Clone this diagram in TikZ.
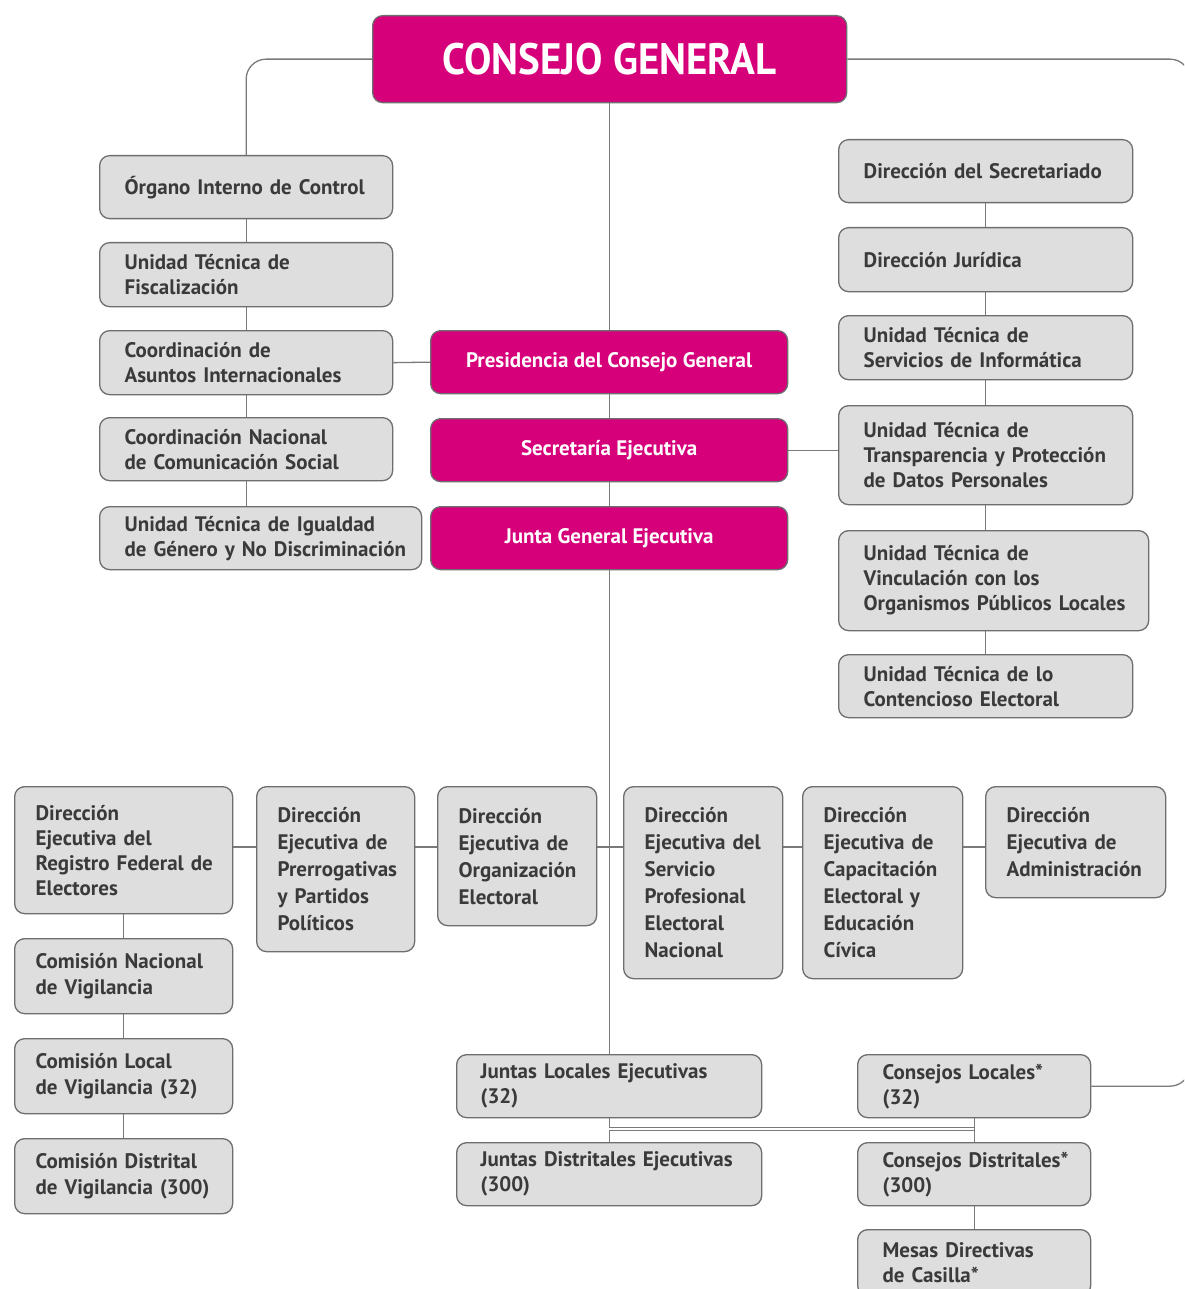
\documentclass[tikz,border=0pt]{standalone}
\usepackage{fontspec}
\setmainfont{PT Sans}
\newfontfamily\titlefont{PT Sans}[FakeStretch=0.93]
\usetikzlibrary{backgrounds}
\definecolor{mag}{HTML}{D6007B}
\definecolor{boxfill}{HTML}{DEDEDE}
\definecolor{boxline}{HTML}{6E6E6E}
\definecolor{txt}{HTML}{3A3A3A}
\definecolor{conncol}{HTML}{7A7A7A}
\hyphenpenalty=10000
\exhyphenpenalty=10000
\begin{document}
\begin{tikzpicture}[x=1pt,y=-1pt,
  gbox/.style={anchor=north west, draw=boxline, line width=1.3pt, fill=boxfill,
    rounded corners=10pt, inner xsep=25pt, inner ysep=0pt, align=left, text=txt,
    font=\fontsize{21}{25}\selectfont\bfseries},
  dbox/.style={gbox, inner xsep=21pt, font=\fontsize{21}{27}\selectfont\bfseries},
  mbox/.style={anchor=north west, draw=boxline, line width=1.3pt, fill=mag,
    rounded corners=10pt, inner sep=0pt, align=center, text=white,
    font=\fontsize{21}{25}\selectfont\bfseries},
  conn/.style={draw=conncol, line width=1.3pt}]
\useasboundingbox (0,0) rectangle (1184,1289);
\clip (0,0) rectangle (1184,1289);

% top
\node[mbox, minimum width=474pt, minimum height=87pt, font=\titlefont\fontsize{44}{50}\selectfont\bfseries] (cg) at (372,15) {CONSEJO GENERAL};

% left column
\node[gbox, text width=243pt, minimum height=63pt] (oic) at (99,155) {Órgano~Interno~de~Control};
\node[gbox, text width=243pt, minimum height=64pt] (utf) at (99,242) {Unidad Técnica de\\Fiscalización};
\node[gbox, text width=243pt, minimum height=64pt] (cai) at (99,330) {Coordinación de\\Asuntos~Internacionales};
\node[gbox, text width=243pt, minimum height=63pt] (cncs) at (99,417) {Coordinación~Nacional\\de~Comunicación~Social};
\node[gbox, text width=272pt, minimum height=63pt] (utig) at (99,506) {Unidad~Técnica~de~Igualdad\\de~Género~y~No~Discriminación};

% centre column
\node[mbox, minimum width=357pt, minimum height=63pt] (pres) at (430,330) {Presidencia del Consejo General};
\node[mbox, minimum width=357pt, minimum height=63pt] (sej) at (430,418) {Secretaría Ejecutiva};
\node[mbox, minimum width=357pt, minimum height=63pt] (jge) at (430,506) {Junta General Ejecutiva};

% right column
\node[gbox, text width=244pt, minimum height=63pt] (dsec) at (838,139) {Dirección~del~Secretariado};
\node[gbox, text width=244pt, minimum height=64pt] (djur) at (838,227) {Dirección Jurídica};
\node[gbox, text width=244pt, minimum height=64pt] (utsi) at (838,315) {Unidad Técnica de\\Servicios~de~Informática};
\node[gbox, text width=244pt, minimum height=99pt] (utt) at (838,405) {Unidad Técnica de\\Transparencia~y~Protección\\de~Datos~Personales};
\node[gbox, text width=260pt, minimum height=100pt] (utv) at (838,530) {Unidad Técnica de\\Vinculación~con~los\\Organismos~Públicos~Locales};
\node[gbox, text width=244pt, minimum height=63pt] (utce) at (838,654) {Unidad~Técnica~de~lo\\Contencioso~Electoral};

% directions row
\node[dbox, text width=176pt, minimum height=127pt, font=\fontsize{21}{25}\selectfont\bfseries] (derfe) at (14,786) {Dirección\\Ejecutiva~del\\Registro~Federal~de\\Electores};
\node[dbox, text width=116pt, minimum height=165pt] (deppp) at (256,786) {Dirección\\Ejecutiva~de\\Prerrogativas\\y~Partidos\\Políticos};
\node[dbox, text width=117pt, minimum height=139pt] (deoe) at (437,786) {Dirección\\Ejecutiva~de\\Organización\\Electoral};
\node[dbox, text width=117pt, minimum height=192pt] (despen) at (623,786) {Dirección\\Ejecutiva~del\\Servicio\\Profesional\\Electoral\\Nacional};
\node[dbox, text width=118pt, minimum height=192pt] (dece) at (802,786) {Dirección\\Ejecutiva~de\\Capacitación\\Electoral~y\\Educación\\Cívica};
\node[dbox, text width=138pt, minimum height=111pt] (dea) at (985,786) {Dirección\\Ejecutiva~de\\Administración};

% vigilance column
\node[dbox, text width=176pt, minimum height=75pt, font=\fontsize{21}{26}\selectfont\bfseries] (cnv) at (14,938) {Comisión~Nacional\\de~Vigilancia};
\node[dbox, text width=176pt, minimum height=75pt, font=\fontsize{21}{26}\selectfont\bfseries] (clv) at (14,1038) {Comisión~Local\\de~Vigilancia~(32)};
\node[dbox, text width=176pt, minimum height=75pt, font=\fontsize{21}{26}\selectfont\bfseries] (cdv) at (14,1138) {Comisión~Distrital\\de~Vigilancia~(300)};

% bottom
\node[gbox, inner xsep=24pt, text width=257pt, minimum height=63pt] (jle) at (456,1054) {Juntas~Locales~Ejecutivas\\(32)};
\node[gbox, inner xsep=24pt, text width=257pt, minimum height=63pt] (jde) at (456,1142) {Juntas~Distritales~Ejecutivas\\(300)};
\node[gbox, text width=183pt, minimum height=63pt] (cl) at (857,1054) {Consejos~Locales*\\(32)};
\node[gbox, text width=183pt, minimum height=63pt] (cd) at (857,1142) {Consejos~Distritales*\\(300)};
\node[gbox, text width=183pt, minimum height=66pt] (mdc) at (857,1229) {Mesas~Directivas\\de~Casilla*};

\coordinate (rcol) at (1190,600);
\coordinate (hrow) at (0,847);
\coordinate (dbl) at (0,1129);

\begin{scope}[on background layer]
  \clip (0,0) rectangle (1184,1289);
  \fill[white] (0,0) rectangle (1184,1289);
  \draw[conn, rounded corners=20pt] (cg.west) -| (oic.north);
  \draw[conn] (oic.south) -- (oic.south |- utig.north);
  \draw[conn] (cg.south) -- (cg.south |- jle.north);
  \draw[conn] (cai.east) -- (pres.west);
  \draw[conn] (sej.east) -- (sej.east -| utt.west);
  \draw[conn] (dsec.south) -- (dsec.south |- utce.north);
  \draw[conn, rounded corners=20pt] (cg.east) -| (rcol) |- (cl.east);
  \draw[conn] (derfe.east |- hrow) -- (dea.west |- hrow);
  \draw[conn] (derfe.south) -- (derfe.south |- cdv.north);
  \draw[conn] (jle.south) -- (jde.north);
  \draw[draw=conncol, line width=1pt, double=white, double distance=1.3pt] (jle.south |- dbl) -- (cl.south |- dbl);
  \draw[conn] (cl.south) -- (cd.north);
  \draw[conn] (cd.south) -- (mdc.north);
\end{scope}
\end{tikzpicture}
\end{document}
